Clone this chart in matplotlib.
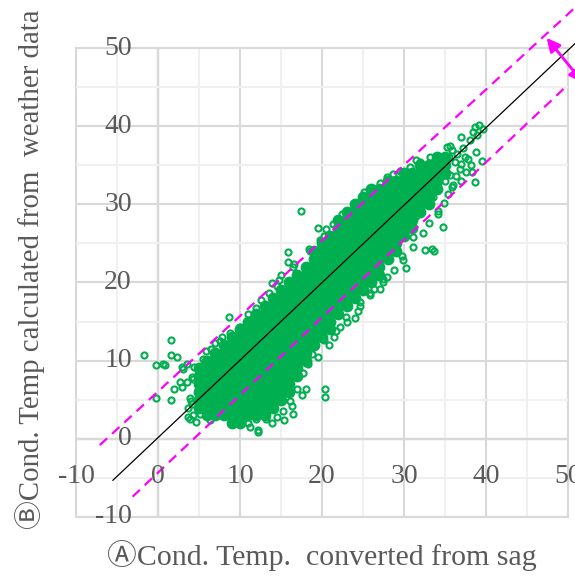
import matplotlib
matplotlib.use('Agg')
import matplotlib.pyplot as plt

plt.rcParams['font.family'] = ['Liberation Serif', 'Noto Sans CJK JP', 'DejaVu Sans']

green = '#00B050'
magenta = '#FF00FF'
gray_text = '#595959'

core_levels = [2, 3, 4, 5, 6, 7, 8, 9, 10, 11, 12, 13, 14, 15, 16, 17, 18,
               19, 20, 21, 22, 23, 24, 25, 26, 27, 28, 29, 30, 31, 32, 33, 34, 35, 36]
core_rows = [
    [9, 10],
    [6, 7, 8, 9, 10, 11, 12, 13],
    [5, 6, 7, 8, 9, 10, 11, 12, 13, 14],
    [5, 6, 7, 8, 9, 10, 11, 12, 13, 14, 15],
    [5, 6, 7, 8, 9, 10, 11, 12, 13, 14, 15, 16],
    [5, 6, 7, 8, 9, 10, 11, 12, 13, 14, 15, 16],
    [5, 6, 7, 8, 9, 10, 11, 12, 13, 14, 15, 16, 17],
    [5, 6, 7, 8, 9, 10, 11, 12, 13, 14, 15, 16, 17],
    [6, 7, 8, 9, 10, 11, 12, 13, 14, 15, 16, 17, 18],
    [7, 8, 9, 10, 11, 12, 13, 14, 15, 16, 17, 18],
    [8, 9, 10, 11, 12, 13, 14, 15, 16, 17, 18, 19],
    [9, 10, 11, 12, 13, 14, 15, 16, 17, 18, 19, 20],
    [10, 11, 12, 13, 14, 15, 16, 17, 18, 19, 20, 21],
    [11, 12, 13, 14, 15, 16, 17, 18, 19, 20, 21],
    [12, 13, 14, 15, 16, 17, 18, 19, 20, 21, 22],
    [13, 14, 15, 16, 17, 18, 19, 20, 21, 22, 23],
    [14, 15, 16, 17, 18, 19, 20, 21, 22, 23, 24],
    [15, 16, 17, 18, 19, 20, 21, 22, 23, 24, 25],
    [16, 17, 18, 19, 20, 21, 22, 23, 24, 25, 26],
    [17, 18, 19, 20, 21, 22, 23, 24, 25, 26, 27],
    [18, 19, 20, 21, 22, 23, 24, 25, 26, 27],
    [19, 20, 21, 22, 23, 24, 25, 26, 27, 28],
    [19, 20, 21, 22, 23, 24, 25, 26, 27, 28, 29],
    [20, 21, 22, 23, 24, 25, 26, 27, 28, 29],
    [21, 22, 23, 24, 25, 26, 27, 28, 29, 30],
    [22, 23, 24, 25, 26, 27, 28, 29, 30, 31],
    [22, 23, 24, 25, 26, 27, 28, 29, 30, 31],
    [23, 24, 25, 26, 27, 28, 29, 30, 31, 32],
    [24, 25, 26, 27, 28, 29, 30, 31, 32, 33],
    [25, 26, 27, 28, 29, 30, 31, 32, 33],
    [26, 27, 28, 29, 30, 31, 32, 33, 34],
    [28, 29, 30, 31, 32, 33, 34],
    [30, 31, 32, 33, 34, 35],
    [32, 33, 34, 35],
    [34, 35],
]

# scattered points around the core
sag_temp = [
    -1.7, -0.2, 0.6, 0.9, 1.6, 1.6, 2.3, -0.2, 1.6, 1.9, 2.9, 2.7, 3.5, 2.9, 3.5,
    3.1, 4.1, 3.9, 3.9, 4.3, 5.1, 4.9, 4.3, 3.7, 6.3, 7.6, 5.1, 4.4, 4.2, 4.0,
    8.6, 8.8, 10.0, 11.0, 10.8, 7.2, 8.2, 9.2, 6.5, 7.5, 9.5, 12.0, 13.9, 13.5,
    14.5, 15.8, 15.8, 15.0, 16.5, 17.4, 19.5, 19.8, 18.5, 20.5, 21.3, 23.2, 24.4,
    22.5, 25.1, 26.3, 27.1, 27.9, 28.7, 29.5, 30.7, 31.5, 31.9, 33.2, 34.0, 35.3,
    35.6, 37.0, 38.4, 38.7, 39.2, 39.6, 38.9, 38.0,
    32.8, 35.6, 36.2, 36.8, 37.6, 37.8, 38.8, 39.5, 38.6, 35.0, 35.5, 36.5, 37.2,
    34.5, 36.0, 37.0, 35.0, 34.2, 38.2, 33.5, 36.4, 37.4, 38.3, 36.9, 35.9,
    34.7, 34.2, 33.4, 32.6, 33.6, 30.2, 29.7, 31.1, 27.9, 27.5, 27.1, 26.3, 25.9,
    24.6, 24.4, 22.2, 24.0, 23.0, 21.5, 20.8, 19.5, 18.3, 17.7, 16.9, 18.1, 20.4,
    20.4, 16.5, 15.3, 16.1, 14.5, 13.2, 12.0, 12.2, 11.2, 11.0, 12.2, 29.0, 31.5,
    32.5, 33.5, 28.5, 26.5, 25.5, 22.5, 17.0,
    12.5, 14.8, 16.6, 18.4, 20.3, 22.1, 23.8, 25.6, 27.4,
    18.8, 20.2, 21.7, 22.9, 24.6, 25.9, 27.5, 28.8, 29.9, 31.1, 32.3, 33.1, 34.2,
    34.9, 35.4, 35.8,
    5.8, 6.9, 7.8, 5.5, 3.6, 4.6, 13.9, 15.4, 16.3, 17.6,
]
weather_temp = [
    10.7, 9.4, 9.6, 9.5, 12.6, 10.7, 10.5, 5.2, 5.0, 6.4, 6.6, 7.3, 7.3, 9.2, 9.6,
    8.9, 7.9, 5.2, 2.6, 3.0, 3.2, 6.2, 7.7, 2.8, 2.4, 3.0, 8.6, 9.2, 4.4, 4.8,
    15.6, 13.5, 14.3, 16.0, 14.1, 10.9, 11.8, 12.0, 11.5, 12.5, 13.2, 16.8, 19.9, 18.7,
    19.5, 23.9, 22.6, 21.0, 22.0, 29.2, 27.0, 25.4, 24.0, 26.8, 27.5, 29.1, 29.1,
    28.8, 31.6, 31.8, 32.7, 33.5, 33.9, 34.3, 34.8, 35.7, 35.4, 36.1, 35.9, 37.3,
    37.5, 38.6, 39.3, 39.9, 40.1, 39.6, 38.9, 38.2,
    32.4, 33.7, 35.4, 34.5, 34.1, 35.8, 36.7, 35.5, 32.9, 34.5, 36.0, 36.5, 37.2,
    35.0, 32.5, 33.0, 33.0, 33.8, 35.0, 34.8, 33.6, 36.1, 34.2, 35.2, 37.0,
    27.1, 29.1, 24.3, 24.1, 24.0, 21.9, 23.4, 25.8, 20.7, 20.1, 19.2, 19.2, 18.4,
    17.5, 16.3, 14.3, 15.4, 15.0, 13.0, 12.0, 10.5, 9.6, 8.4, 6.4, 6.4, 6.4,
    5.4, 3.2, 3.6, 4.9, 2.8, 2.6, 2.6, 1.1, 1.5, 2.0, 0.9, 26.0, 28.5,
    30.0, 31.0, 24.5, 22.0, 21.0, 17.0, 10.0,
    17.8, 20.3, 22.4, 24.3, 25.9, 27.6, 28.9, 30.4, 31.9,
    10.8, 12.6, 13.8, 15.6, 17.0, 18.6, 20.4, 21.6, 22.9, 24.6, 26.3, 27.6, 28.8,
    30.2, 31.3, 32.2,
    11.2, 12.2, 13.0, 10.2, 4.0, 2.2, 2.0, 2.4, 4.2, 5.6,
]

tick_values = [-10, 0, 10, 20, 30, 40, 50]
tick_labels = ['-10', '0', '10', '20', '30', '40', '50']

fig = plt.figure(figsize=(5.75, 5.77), dpi=100)
ax = fig.add_axes([0.1322, 0.104, 0.8556, 0.8128])
ax.set_xlim(-10, 50)
ax.set_ylim(-10, 50)

ax.set_xticks(tick_values)
ax.set_yticks(tick_values)
ax.set_xticks([-5, 5, 15, 25, 35, 45], minor=True)
ax.set_yticks([-5, 5, 15, 25, 35, 45], minor=True)
ax.grid(which='major', color='#D9D9D9', lw=1.5, zorder=0)
ax.grid(which='minor', color='#F0F0F0', lw=1.5, zorder=0)
ax.set_axisbelow(True)
ax.tick_params(which='both', length=0, labelbottom=False, labelleft=False)
for s in ax.spines.values():
    s.set_color('#D9D9D9')
    s.set_linewidth(1.5)
    s.set_zorder(0.4)
ax.axhline(0, color='#BFBFBF', lw=1.6, zorder=0.5)
ax.axvline(0, color='#BFBFBF', lw=1.6, zorder=0.5)

# core drawn as solid overlapping markers
core_x = [x for row in core_rows for x in row]
core_y = [lvl for lvl, row in zip(core_levels, core_rows) for x in row]
ax.plot(core_x, core_y, 'o', ms=8.5, mfc=green, mec=green, mew=0, zorder=2)
ax.plot(sag_temp, weather_temp, 'o', ms=4.4, mfc='none', mec=green, mew=1.5, zorder=3)

# 1:1 line and +/- band
ax.plot([-5.5, 51.5], [-5.3, 51.2], color='black', lw=0.9, zorder=4, clip_on=False)
ax.plot([-7.1, 51.2], [-0.8, 55.5], color=magenta, lw=1.6, dashes=(4.5, 3),
        zorder=4, clip_on=False)
ax.plot([-3.1, 50.0], [-7.4, 45.3], color=magenta, lw=1.6, dashes=(4.5, 3),
        zorder=4, clip_on=False)
ax.annotate('', xy=(47.4, 51.3), xytext=(51.8, 45.6),
            arrowprops=dict(arrowstyle='<|-|>', color=magenta, lw=2,
                            mutation_scale=20, shrinkA=0, shrinkB=0),
            annotation_clip=False, zorder=5)

# Excel-style tick labels next to the zero axes
for v, lab in zip(tick_values, tick_labels):
    ax.text(-3.2, v, lab, ha='right', va='center', fontsize=20,
            color=gray_text, clip_on=False, zorder=6)
    ax.text(v, -4.85, lab, ha='center', va='center', fontsize=20,
            color=gray_text, clip_on=False, zorder=6)

fig.text(0.559, 0.038, 'ⒶCond. Temp.  converted from sag', ha='center',
         va='center', fontsize=21.5, color=gray_text)
fig.text(0.052, 0.533, 'ⒷCond. Temp calculated from  weather data', ha='center',
         va='center', rotation=90, fontsize=20.8, color=gray_text)

fig.savefig('out.png', dpi=100)
